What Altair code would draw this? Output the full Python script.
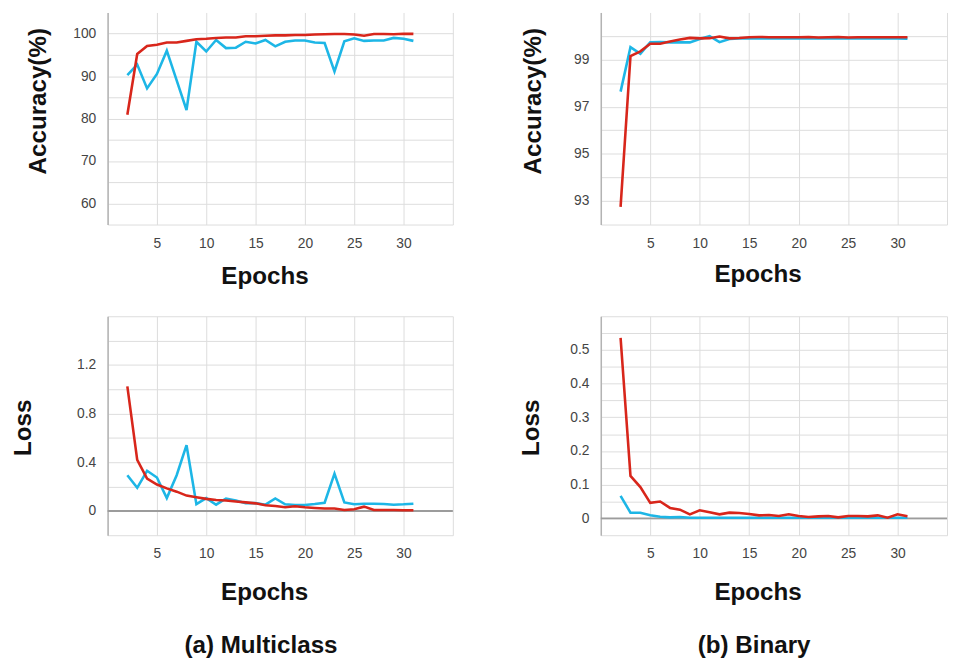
import altair as alt
import pandas as pd

epochs = list(range(2, 32))

# (a) Multiclass accuracy (%)
mc_acc_red = [80.9, 95.2, 97.1, 97.4, 97.9, 97.9, 98.3, 98.7, 98.8, 99.0,
              99.1, 99.1, 99.4, 99.4, 99.5, 99.6, 99.6, 99.7, 99.7, 99.8,
              99.85, 99.9, 99.9, 99.8, 99.5, 99.9, 99.9, 99.85, 100.0, 99.95]
mc_acc_cyan = [90.2, 92.7, 87.1, 90.5, 96.0, 89.0, 82.0, 98.1, 95.8, 98.5,
               96.6, 96.7, 98.1, 97.7, 98.5, 97.0, 98.1, 98.4, 98.4, 97.9,
               97.8, 91.1, 98.2, 98.9, 98.3, 98.4, 98.4, 99.0, 98.8, 98.3]

# (b) Binary accuracy (%)
bi_acc_red = [92.75, 99.15, 99.35, 99.67, 99.67, 99.77, 99.85, 99.92, 99.9, 99.91,
              99.98, 99.9, 99.92, 99.95, 99.96, 99.95, 99.95, 99.95, 99.95, 99.96,
              99.94, 99.95, 99.96, 99.94, 99.95, 99.95, 99.95, 99.95, 99.95, 99.95]
bi_acc_cyan = [97.64, 99.53, 99.25, 99.74, 99.75, 99.73, 99.73, 99.73, 99.87, 99.99,
               99.74, 99.87, 99.9, 99.9, 99.9, 99.9, 99.9, 99.9, 99.9, 99.9,
               99.9, 99.9, 99.9, 99.9, 99.9, 99.9, 99.9, 99.9, 99.9, 99.89]

# (a) Multiclass loss
mc_loss_red = [1.023, 0.419, 0.266, 0.217, 0.185, 0.158, 0.126, 0.113, 0.099, 0.089,
               0.086, 0.078, 0.070, 0.062, 0.046, 0.040, 0.030, 0.038, 0.030, 0.024,
               0.019, 0.019, 0.008, 0.013, 0.035, 0.008, 0.008, 0.008, 0.005, 0.005]
mc_loss_cyan = [0.293, 0.190, 0.330, 0.274, 0.105, 0.293, 0.540, 0.056, 0.105, 0.051,
                0.102, 0.086, 0.064, 0.064, 0.051, 0.102, 0.054, 0.048, 0.048, 0.056,
                0.067, 0.306, 0.070, 0.054, 0.059, 0.059, 0.056, 0.051, 0.054, 0.059]

# (b) Binary loss
bi_loss_red = [0.536, 0.126, 0.093, 0.046, 0.050, 0.031, 0.026, 0.012, 0.024, 0.018,
               0.012, 0.017, 0.016, 0.013, 0.009, 0.010, 0.007, 0.012, 0.007, 0.004,
               0.006, 0.007, 0.003, 0.007, 0.007, 0.006, 0.009, 0.002, 0.012, 0.006]
bi_loss_cyan = [0.067, 0.017, 0.017, 0.009, 0.005, 0.003, 0.004, 0.002, 0.002, 0.002,
                0.002, 0.002, 0.002, 0.002, 0.002, 0.002, 0.002, 0.002, 0.002, 0.002,
                0.002, 0.002, 0.002, 0.002, 0.002, 0.002, 0.002, 0.002, 0.002, 0.002]

x_grid = [0, 5, 10, 15, 20, 25, 30, 35]
x_labels = [5, 10, 15, 20, 25, 30]

RED = "#d8261b"
CYAN = "#1db6e6"
FONT = "Liberation Sans"


def label_expr(vals):
    cond = " || ".join("abs(datum.value - (%s)) < 1e-6" % v for v in vals)
    return "(" + cond + ") ? format(datum.value, '~g') : ''"


def panel(red, cyan, ydom, ygrid, ylabels, ytitle, ytx, yty, xtx, xty,
          width, height, zero=False, caption=None, cap_x=0, cap_y=0):
    df = pd.DataFrame({
        "epoch": epochs + epochs,
        "value": cyan + red,
        "series": ["cyan"] * len(epochs) + ["red"] * len(epochs),
    })
    xenc = alt.X("epoch:Q",
                 scale=alt.Scale(domain=[0, 35], nice=False, zero=False),
                 axis=alt.Axis(values=x_grid, labelExpr=label_expr(x_labels),
                               title="Epochs", titleX=xtx, titleY=xty,
                               titleAlign="center", titleBaseline="alphabetic",
                               domain=False, ticks=False, labelPadding=12))
    yenc = alt.Y("value:Q", scale=alt.Scale(domain=ydom, nice=False, zero=False),
                 axis=alt.Axis(values=ygrid, labelExpr=label_expr(ylabels),
                               title=ytitle, titleX=ytx, titleY=yty, titleAngle=270,
                               titleAlign="center", titleBaseline="middle",
                               ticks=False, labelPadding=12, domain=True))
    base = alt.Chart(df)
    layers = []
    if zero:
        zdf = pd.DataFrame({"value": [0.0], "epoch": [0]})
        layers.append(alt.Chart(zdf).mark_rule(color="#9c9c9c", strokeWidth=2).encode(
            y=yenc))
    cyan_line = base.transform_filter("datum.series == 'cyan'").mark_line(
        color=CYAN, strokeWidth=2.6).encode(x=xenc, y=yenc)
    red_line = base.transform_filter("datum.series == 'red'").mark_line(
        color=RED, strokeWidth=2.6).encode(x=xenc, y=yenc)
    layers += [cyan_line, red_line]
    if caption:
        layers.append(alt.Chart(pd.DataFrame({"c": [caption]})).mark_text(
            font=FONT, fontSize=24.5, fontWeight="bold", color="#111",
            align="center", baseline="alphabetic").encode(
            x=alt.value(cap_x), y=alt.value(cap_y), text="c:N"))
    return alt.layer(*layers).properties(width=width, height=height)


p1 = panel(mc_acc_red, mc_acc_cyan, [55, 105], [55, 60, 65, 70, 75, 80, 85, 90, 95, 100],
           [60, 70, 80, 90, 100], "Accuracy(%)", -69.5, 89.5, 159, 59.5, 350, 215)
p2 = panel(bi_acc_red, bi_acc_cyan, [92, 101], [92, 93, 94, 95, 96, 97, 98, 99, 100],
           [93, 95, 97, 99], "Accuracy(%)", -68.5, 89.5, 159, 57.5, 351, 215)
p3 = panel(mc_loss_red, mc_loss_cyan, [-0.2, 1.6],
           [-0.2, 0, 0.2, 0.4, 0.6, 0.8, 1.0, 1.2, 1.4, 1.6],
           [0, 0.4, 0.8, 1.2], "Loss", -85.5, 112.5, 158.7, 65.3, 350, 222,
           zero=True, caption="(a) Multiclass", cap_x=155.5, cap_y=341)
p4 = panel(bi_loss_red, bi_loss_cyan, [-0.05, 0.6],
           [-0.05, 0, 0.05, 0.1, 0.15, 0.2, 0.25, 0.3, 0.35, 0.4, 0.45, 0.5, 0.55, 0.6],
           [0, 0.1, 0.2, 0.3, 0.4, 0.5], "Loss", -70.5, 112.5, 159, 65.3, 351, 222,
           zero=True, caption="(b) Binary", cap_x=155.5, cap_y=341)

chart = alt.concat(p1, p2, p3, p4, columns=2, spacing={"row": 93, "column": 150},
                   bounds="flush").properties(
    padding={"left": 2, "top": 0, "right": 0, "bottom": 0}
).configure_view(stroke=None).configure_axis(
    labelFont=FONT, labelFontSize=14, labelColor="#444",
    titleFont=FONT, titleFontSize=24.5, titleFontWeight="bold", titleColor="#111",
    gridColor="#dcdcdc", gridWidth=1, domainColor="#b3b3b3", domainWidth=1.5,
)

chart.save("out.html", embed_options={"renderer": "svg", "actions": False})
